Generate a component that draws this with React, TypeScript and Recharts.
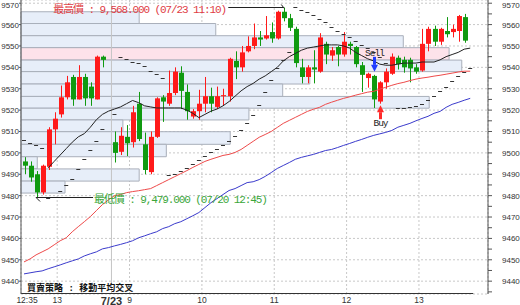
import {
  ComposedChart,
  XAxis,
  YAxis,
  CartesianGrid,
  Bar,
  Line,
  Scatter,
  ReferenceArea,
  ReferenceLine,
  ReferenceDot,
} from 'recharts';

// 5-minute candles, slot 14 is the gap between 07/20 and 07/23, slot 74 holds only indicators
const opens = [9496, 9494, 9490, 9481.5, 9493.5, 9511, 9518, 9526, 9535.5, 9525, 9535.5, 9531, 9525, 9545, null,
  9505, 9500.5, 9507.5, 9505, 9523, 9504, 9491, 9507.5, 9526, 9523, 9528, 9537.5, 9528.5, 9517, 9519.5, 9523, 9526.5,
  9521.5, 9526.5, 9526.5, 9543, 9540, 9547.5, 9550, 9554, 9553.5, 9556.5, 9553.5, 9566, 9563, 9558, 9540, 9535.5, 9540,
  9538, 9551, 9545.5, 9549.5, 9546, 9551, 9549.5, 9541, 9535, 9536, 9524, 9533, 9537, 9544.5, 9543.5, 9543.5, 9540,
  9538.5, 9551, 9558, 9552, 9557, 9556.5, 9557, 9563.5, null];
const highs = [9498, 9496, 9491.5, 9494.5, 9512, 9519, 9531.5, 9536, 9536.5, 9541, 9537, 9533, 9545.5, 9545.5, null,
  9510, 9512, 9513, 9522, 9528.5, 9509.5, 9510, 9526, 9527, 9538.5, 9540, 9540.5, 9532, 9520.5, 9529.5, 9535.5, 9530.5,
  9531, 9530, 9544.5, 9547.5, 9550, 9554.5, 9560.5, 9557, 9564, 9561, 9566.5, 9568, 9565, 9559, 9544, 9541, 9548,
  9556, 9552, 9549.5, 9550, 9556.5, 9552, 9550, 9542.5, 9537.5, 9536.5, 9533.5, 9539.5, 9546.5, 9545.5, 9545, 9544.5,
  9541.5, 9558, 9559, 9559.5, 9558.5, 9563.5, 9560, 9564.5, 9565, null];
const lows = [9490, 9486.5, 9479, 9480.5, 9492, 9504, 9516.5, 9525, 9522, 9525, 9522, 9522, 9525, 9540, null,
  9495.5, 9499, 9498.5, 9502.5, 9505.5, 9490, 9490, 9507, 9514.5, 9522, 9527, 9520.5, 9515.5, 9516, 9515.5, 9519, 9519,
  9520.5, 9522, 9524, 9534.5, 9538, 9547, 9548.5, 9550, 9553, 9551.5, 9553, 9561.5, 9557, 9540, 9532.5, 9532.5, 9532.5,
  9537.5, 9541.5, 9543, 9540.5, 9545, 9546, 9540, 9528.5, 9530.5, 9521, 9523, 9530, 9536.5, 9539, 9537.5, 9533, 9537,
  9538, 9547.5, 9550, 9550.5, 9554, 9554, 9552, 9551.5, null];
const closes = [9494, 9488.5, 9481.5, 9494, 9511, 9516, 9526, 9533, 9525, 9535.5, 9525.5, 9525.5, 9545, 9543.5, null,
  9500, 9508, 9504.5, 9519, 9506.5, 9492, 9507.5, 9525.5, 9524, 9528, 9538, 9529, 9519.5, 9519.5, 9523, 9526.5, 9523,
  9526.5, 9527, 9544, 9540, 9547, 9550, 9554, 9553, 9555, 9553.5, 9566, 9563, 9558.5, 9542, 9535.5, 9540, 9539,
  9554, 9546, 9548, 9546, 9552, 9550, 9541.5, 9536.5, 9537, 9525, 9533, 9538, 9545, 9541.5, 9540, 9539.5, 9538,
  9551, 9558, 9552, 9558, 9555.5, 9558, 9564, 9552.5, null];

// moving averages (black / red / blue)
const maFast = [null, null, null, null, 9493, 9496, 9499, 9502, 9505, 9507.5, 9509, 9512, 9515.5, 9518, 9519.5,
  9520.5, 9521.5, 9523, 9524.5, 9523.5, 9522, 9521.5, 9521, 9521, 9521, 9521, 9521, 9520, 9518.5, 9516.5, 9518, 9519.5,
  9520.5, 9522, 9524, 9526.5, 9529, 9531, 9532.5, 9534.5, 9536, 9538, 9540, 9543, 9545, 9546.5, 9548, 9549, 9549.5,
  9550, 9550.5, 9550.5, 9550.5, 9550, 9549, 9547, 9545.5, 9544, 9543, 9541.5, 9541, 9541, 9541.5, 9542, 9542, 9542,
  9542.5, 9542.5, 9542.5, 9543.5, 9545, 9546, 9547, 9548.5, 9549];
const maMid = [9449, 9450.4, 9452.3, 9453.7, 9455.1, 9457, 9458.9, 9460.3, 9463.1, 9465.5, 9467.8, 9470.2, 9473,
  9475.8, 9478, 9480, 9480.5, 9481.4, 9481.9, 9482.3, 9482.8, 9483.3, 9484.7, 9486.1, 9487.5, 9488.9, 9490.3, 9491.7,
  9493.2, 9494.6, 9496, 9497, 9497.9, 9498.8, 9499.3, 9500.2, 9501.6, 9503.5, 9505.4, 9507.3, 9508.6, 9510, 9511.9,
  9513.8, 9515.2, 9516.6, 9518, 9519.4, 9520.4, 9521.3, 9522.7, 9523.7, 9524.6, 9525.5, 9526.2, 9527, 9527.7, 9528.4,
  9528.8, 9529.8, 9530.7, 9531.6, 9532.4, 9533, 9533.8, 9534.5, 9535, 9535.4, 9535.9, 9536.3, 9536.8, 9537.3, 9537.8,
  9538.2, 9538.2];
const maSlow = [9443.4, 9443.9, 9444.4, 9444.8, 9445.8, 9446.7, 9447.6, 9448.6, 9449.5, 9450.4, 9451.8, 9452.8,
  9453.7, 9455.1, 9455.7, 9456.5, 9457.2, 9458, 9458.9, 9460.3, 9461.2, 9462.2, 9463.1, 9464.6, 9465.5, 9466.9, 9467.8,
  9469.2, 9470.6, 9472.1, 9474.4, 9476.7, 9478.6, 9480.5, 9482.4, 9483.3, 9484.7, 9486.1, 9486.5, 9487.5, 9489,
  9490.8, 9492.7, 9494.1, 9495.5, 9497, 9497.9, 9498.6, 9499.3, 9500.2, 9501.1, 9501.6, 9502.5, 9503.5, 9504.4, 9505.4,
  9506.3, 9507.3, 9508.2, 9508.9, 9509.6, 9510.5, 9512, 9512.9, 9513.8, 9515, 9516.1, 9517.1, 9518.5, 9519.4, 9521.3,
  9522.7, 9523.6, 9524.6, 9525.5];

// parabolic SAR dots
const sar = [9506, 9504.5, 9503.5, 9502.5, 9479, 9479.5, 9482, 9485, 9488, 9492.5, 9497, 9501.5, 9505.5, 9511, null,
  9518, 9545, 9544, 9542.5, 9542, 9540.5, 9538.5, 9537, 9535, 9489.5, 9490, 9491.5, 9493, 9495, 9496.5, 9498.5,
  9500.5, 9502, 9503.5, 9505.5, 9508, 9510.5, 9514, 9517.5, 9522.5, 9528.5, 9534, 9539.5, 9543.5, 9547, 9568, 9567,
  9566, 9564.5, 9562.5, 9561, 9559, 9557, 9555.5, 9554, 9552.5, 9550.5, 9549, 9547, 9545, 9542, null, 9521, 9521,
  9521.5, 9522, 9523, 9524.5, 9526.5, 9529, 9531, 9533.5, 9536, 9538, 9539.5];

const xTickSlots = [0, 5, 14, 17, 29, 41, 53, 65];
const xTickLabels = ['12:35', '13', '7/23', '9', '10', '11', '12', '13'];
const gridSlots = [5, 17, 29, 41, 53, 65];
const daySplitSlot = 14;

const leftTicks = [9440, 9450, 9460, 9470, 9480, 9490, 9500, 9510, 9520, 9530, 9540, 9550, 9560, 9570];
const rightTicks = [9435, 9440, 9445, 9450, 9455, 9460, 9465, 9470, 9475, 9480, 9485, 9490, 9495, 9500, 9505,
  9510, 9515, 9520, 9525, 9530, 9535, 9540, 9545, 9550, 9555, 9560, 9565, 9570];

// volume profile: price band edges (top -> bottom) and bar length in candle slots
const profileEdges = [9566.0, 9560.5, 9554.8, 9549.2, 9543.4, 9538.0, 9532.2, 9526.4, 9520.9, 9515.4, 9509.9,
  9504.0, 9498.2, 9492.5, 9486.8, 9481.2];
const profileLen = [19.6, 32.3, 63.4, 71.0, 73.1, 47.9, 43.4, 67.7, 37.8, 16.9, 34.7, 24.1, 2.7, 19.6, 7.3];
const profileHot = 3;

const highMark = { slot: 43, price: 9568, text: '最高價 : 9,568.000 (07/23 11:10)' };
const lowMark = { slot: 2, price: 9479, text: '最低價 : 9,479.000 (07/20 12:45)' };
const sellSlots = [58];
const buySlots = [59];

const Y_DOMAIN: [number, number] = [9434, 9571.5];
const X_DOMAIN: [number, number] = [-0.5, 76.95];
const UP = '#ff1a1a';
const DOWN = '#109a10';
const AXIS_FONT = "'Liberation Sans', Arial, sans-serif";
const MONO = "'Liberation Mono', 'Noto Sans CJK TC', monospace";

const rows = opens.map((o, i) => ({
  i,
  o,
  h: highs[i],
  l: lows[i],
  c: closes[i],
  range: o == null ? null : [lows[i], highs[i]],
  maFast: maFast[i],
  maMid: maMid[i],
  maSlow: maSlow[i],
}));

const sarRows = sar
  .map((v, i) => ({ i, sar: v }))
  .filter(d => d.sar != null);

const Candle = (props: any) => {
  const { x, y, width, height, payload } = props;
  if (!payload || payload.o == null) return null;
  const { o, h, l, c } = payload;
  const top = Math.min(y, y + height);
  const span = Math.abs(height);
  const toY = (v: number) => (h === l ? top : top + ((h - v) / (h - l)) * span);
  const mid = Math.round(x + width / 2);
  const color = c >= o ? UP : DOWN;
  const bodyTop = toY(Math.max(o, c));
  const bodyBot = toY(Math.min(o, c));
  return (
    <g>
      <line x1={mid + 0.5} x2={mid + 0.5} y1={top} y2={top + span} stroke={color} strokeWidth={1} />
      <rect x={mid - 2} y={bodyTop} width={5} height={Math.max(1, bodyBot - bodyTop)} fill={color} />
    </g>
  );
};

const SarDash = (props: any) => {
  const { cx, cy } = props;
  if (cx == null || cy == null) return null;
  const yy = Math.round(cy) + 0.5;
  return <line x1={cx - 2} x2={cx + 2} y1={yy} y2={yy} stroke="#333" strokeWidth={1} />;
};

const XTick = (props: any) => {
  const { x, y, payload } = props;
  const k = xTickSlots.indexOf(payload.value - 0.5);
  const label = xTickLabels[k] ?? '';
  const big = label === '7/23';
  return (
    <text
      x={x}
      y={y}
      dy={big ? 7.5 : 5.5}
      textAnchor="middle"
      fontSize={big ? 11 : 8.5}
      fontWeight={big ? 700 : 400}
      fontFamily={AXIS_FONT}
      fill="#333"
    >
      {label}
    </text>
  );
};

// price labels; the top one is nudged down so it stays inside the picture
const YTick = (props: any) => {
  const { x, y, payload, textAnchor } = props;
  const v = payload.value as number;
  if (v % 10 !== 0) return null;
  return (
    <text
      x={x}
      y={Math.max(y, 5)}
      dy={3}
      textAnchor={textAnchor}
      fontSize={8}
      fontFamily={AXIS_FONT}
      fill="#333"
    >
      {v}
    </text>
  );
};

const HighShape = (props: any) => {
  const { cx, cy } = props;
  const ly = Math.round(cy) + 0.5;
  return (
    <g>
      <line x1={cx - 55} x2={cx} y1={ly} y2={ly} stroke="#222" strokeWidth={1} />
      <line x1={cx - 2} y1={ly - 3} x2={cx + 1} y2={ly + 1} stroke="#222" strokeWidth={1} />
      <text x={cx - 230} y={cy + 6} fill="#e03c44" fontSize={11} letterSpacing={-1.1} fontFamily={MONO}>
        {highMark.text}
      </text>
    </g>
  );
};

const LowShape = (props: any) => {
  const { cx, cy } = props;
  const ly = Math.round(cy) - 0.5;
  return (
    <g>
      <line x1={cx} x2={cx + 57} y1={ly} y2={ly} stroke="#222" strokeWidth={1} />
      <line x1={cx} y1={ly} x2={cx + 4} y2={ly + 4} stroke="#222" strokeWidth={1} />
      <text x={cx + 58} y={cy + 5} fill="#3aa63a" fontSize={11} letterSpacing={-1.1} fontFamily={MONO}>
        {lowMark.text}
      </text>
    </g>
  );
};

const SellShape = (props: any) => {
  const { cx, cy } = props;
  const m = Math.round(cx) + 0.5;
  const tip = cy - 3;
  return (
    <g>
      <text x={m} y={tip - 16} textAnchor="middle" fontSize={9.5} letterSpacing={-1} fontFamily={MONO} fill="#222">
        Sell
      </text>
      <rect x={m - 1.5} y={tip - 15} width={3} height={8} fill="#1f3cff" />
      <polygon points={`${m - 3.5},${tip - 7} ${m + 3.5},${tip - 7} ${m},${tip}`} fill="#1f3cff" />
    </g>
  );
};

const BuyShape = (props: any) => {
  const { cx, cy } = props;
  const m = Math.round(cx) + 0.5;
  const tip = cy + 1.5;
  return (
    <g>
      <polygon points={`${m - 3.5},${tip + 7} ${m + 3.5},${tip + 7} ${m},${tip}`} fill="#ff2a2a" />
      <rect x={m - 1.5} y={tip + 7} width={3} height={7} fill="#ff2a2a" />
      <text x={m} y={tip + 21} textAnchor="middle" fontSize={9.5} letterSpacing={-1} fontFamily={MONO} fill="#222">
        Buy
      </text>
    </g>
  );
};

export default function App() {
  return (
    <div style={{ position: 'absolute', left: 0, top: 0, width: 520, height: 305, background: '#fff' }}>
      <ComposedChart width={520} height={305} data={rows} margin={{ top: 0, right: 0, bottom: 0, left: 0 }}>
        <XAxis
          type="number"
          dataKey="i"
          domain={X_DOMAIN}
          allowDataOverflow
          ticks={xTickSlots.map(s => s + 0.5)}
          interval={0}
          tick={<XTick />}
          axisLine={false}
          tickLine={false}
          tickSize={3}
          tickMargin={0}
          height={11}
        />
        <XAxis
          xAxisId="g"
          type="number"
          dataKey="i"
          domain={X_DOMAIN}
          allowDataOverflow
          ticks={gridSlots.map(s => s + 0.5)}
          interval={0}
          hide
        />
        <YAxis
          yAxisId="L"
          orientation="left"
          width={21}
          domain={Y_DOMAIN}
          allowDataOverflow
          ticks={leftTicks}
          interval={0}
          tickSize={2}
          tickMargin={0}
          axisLine={{ stroke: '#555' }}
          tickLine={{ stroke: '#555' }}
          tick={<YTick />}
        />
        <YAxis
          yAxisId="R"
          orientation="right"
          width={32}
          domain={Y_DOMAIN}
          allowDataOverflow
          ticks={rightTicks}
          interval={0}
          tickSize={4}
          tickMargin={10}
          axisLine={{ stroke: '#555' }}
          tickLine={{ stroke: '#555' }}
          tick={<YTick />}
        />
        <CartesianGrid xAxisId="g" yAxisId="L" stroke="#c8c8c8" strokeDasharray="2 2" />

        {profileLen.map((len, k) => (
          <ReferenceArea
            key={`p${k}`}
            yAxisId="L"
            x1={X_DOMAIN[0]}
            x2={len - 0.5}
            y1={profileEdges[k + 1]}
            y2={profileEdges[k]}
            fill={k === profileHot ? '#fde2ea' : '#e7eef9'}
            fillOpacity={1}
            stroke="#a9afba"
            strokeWidth={1}
          />
        ))}

        <ReferenceLine yAxisId="L" x={daySplitSlot + 0.5} stroke="#c4c4c4" strokeWidth={1} />
        <ReferenceLine
          yAxisId="L"
          segment={[{ x: X_DOMAIN[0], y: 9434.23 }, { x: 74.5, y: 9434.23 }]}
          stroke="#333"
          strokeWidth={1}
        />

        <Bar yAxisId="L" dataKey="range" barSize={5} shape={<Candle />} isAnimationActive={false} />
        <Line yAxisId="L" dataKey="maSlow" stroke="#3a3acc" strokeWidth={1} dot={false} isAnimationActive={false} />
        <Line yAxisId="L" dataKey="maMid" stroke="#ee4a4a" strokeWidth={1} dot={false} isAnimationActive={false} />
        <Line yAxisId="L" dataKey="maFast" stroke="#222" strokeWidth={1} dot={false} isAnimationActive={false} />
        <Scatter yAxisId="L" data={sarRows} dataKey="sar" shape={<SarDash />} isAnimationActive={false} />

        <ReferenceDot yAxisId="L" x={highMark.slot} y={highMark.price} r={0} shape={<HighShape />} />
        <ReferenceDot yAxisId="L" x={lowMark.slot} y={lowMark.price} r={0} shape={<LowShape />} />
        {sellSlots.map(s => (
          <ReferenceDot key={`s${s}`} yAxisId="L" x={s} y={highs[s] as number} r={0} shape={<SellShape />} />
        ))}
        {buySlots.map(s => (
          <ReferenceDot key={`b${s}`} yAxisId="L" x={s} y={lows[s] as number} r={0} shape={<BuyShape />} />
        ))}
      </ComposedChart>
      <svg width={520} height={305} style={{ position: 'absolute', left: 0, top: 0, pointerEvents: 'none' }}>
        <text x={27} y={291} fontSize={9} fontWeight={700} fontFamily={MONO} fill="#111">
          買賣策略 : 移動平均交叉
        </text>
      </svg>
    </div>
  );
}
